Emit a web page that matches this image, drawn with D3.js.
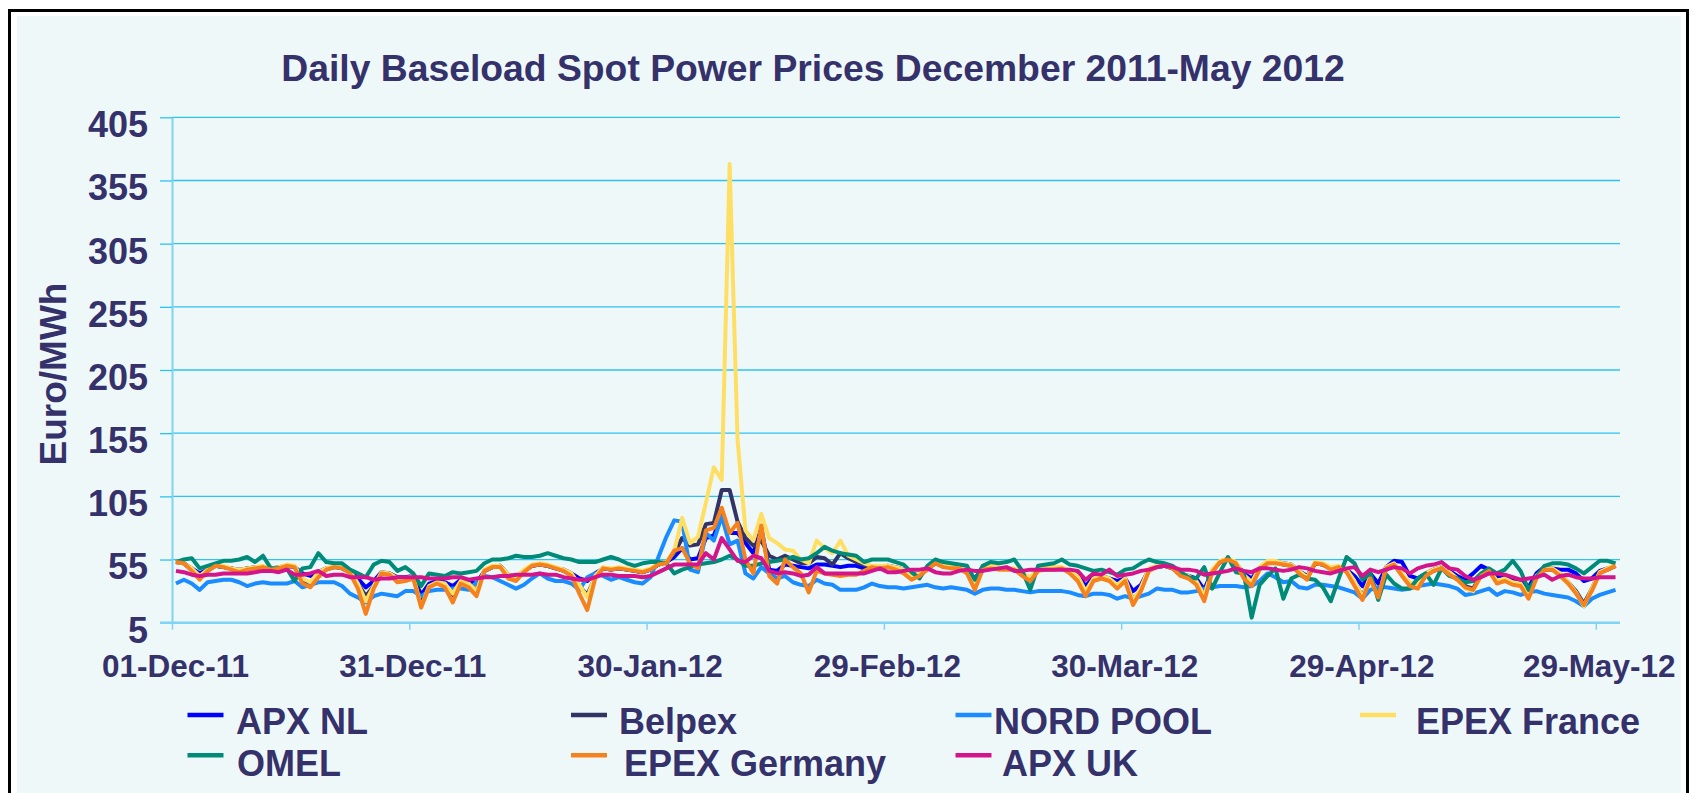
<!DOCTYPE html>
<html>
<head>
<meta charset="utf-8">
<script src="https://cdn.jsdelivr.net/npm/d3@7"></script>
<style>
    body { margin: 0; background: #ffffff; }
    svg { display: block; font-family: "Liberation Sans", Arial, sans-serif; font-weight: bold; }
</style>
</head>
<body>
<svg width="1696" height="793"></svg>
<script>
// daily baseload prices, Euro/MWh, 01-Dec-2011 .. 31-May-2012 (183 days)
var startDay = "2011-12-01";
var endDay = "2012-06-01";

var seriesNames = ["APX NL", "Belpex", "NORD POOL", "EPEX France", "OMEL", "EPEX Germany", "APX UK"];

var apxNL = [53,52,48,44,47,50,49,48,47,48,
    49,49,48,49,50,49,44,42,45,48,
    49,49,46,40,33,38,45,44,41,41,
    42,27,36,38,37,34,39,38,36,46,
    49,50,43,41,46,50,51,50,48,47,
    44,40,38,44,48,47,48,47,46,45,
    47,51,53,57,64,55,56,72,74,90,
    76,76,68,60,80,47,46,51,50,49,
    48,51,51,50,49,50,50,48,47,49,
    50,49,47,44,43,48,52,50,49,49,
    46,40,48,49,48,48,47,44,39,47,
    48,48,48,46,43,34,41,42,40,38,
    40,30,35,47,49,50,48,44,42,40,
    31,46,53,55,52,44,40,48,53,53,
    52,51,46,42,52,51,48,49,47,42,
    34,44,36,49,54,53,42,40,44,47,
    49,46,42,39,44,50,47,42,42,39,
    37,33,44,49,48,47,47,44,38,40,
    46,48,50];

var belpex = [53,52,47,41,46,50,49,48,46,48,
    48,49,48,48,50,49,39,36,43,47,
    49,48,45,36,26,34,44,44,40,39,
    41,22,34,37,35,27,37,35,31,46,
    49,50,42,40,46,50,51,50,48,46,
    43,34,27,41,48,47,48,47,46,45,
    47,51,53,60,72,66,67,83,84,110,
    110,85,72,66,70,58,55,58,55,52,
    52,57,56,51,60,56,53,51,49,49,
    49,48,46,41,43,48,52,50,49,49,
    45,35,48,49,48,48,47,43,38,47,
    48,48,48,45,41,30,39,41,39,35,
    39,23,31,47,49,50,48,43,41,38,
    28,46,53,55,52,42,36,48,53,53,
    51,50,45,40,52,51,48,49,46,37,
    26,41,27,48,51,43,36,33,43,46,
    48,44,40,34,32,43,46,38,39,36,
    35,27,41,47,47,43,37,30,20,32,
    45,47,50];

var nordPool = [36,39,36,31,37,38,39,39,37,34,
    36,37,36,36,36,38,33,35,37,37,
    37,34,28,25,21,26,28,27,26,30,
    30,26,30,31,31,32,32,31,37,42,
    41,38,35,32,35,40,44,40,38,38,
    36,31,41,44,42,39,41,39,37,36,
    41,57,73,86,85,47,45,76,70,89,
    67,70,44,40,49,44,40,42,37,35,
    34,39,36,35,31,31,31,33,36,34,
    33,33,32,33,34,35,33,32,33,32,
    31,28,31,32,32,31,31,30,29,30,
    30,30,30,29,27,26,28,28,27,24,
    26,24,26,28,32,31,31,29,29,30,
    32,33,34,34,34,33,34,38,44,41,
    37,38,33,32,35,35,34,33,31,29,
    24,31,33,33,32,31,32,34,35,36,
    35,34,32,27,28,30,32,27,30,29,
    27,29,30,28,27,26,25,22,18,24,
    27,29,31];

var epexFrance = [53,52,48,42,47,50,50,48,47,48,
    49,50,48,49,51,50,40,37,45,48,
    50,49,46,36,22,34,45,44,40,40,
    42,17,34,37,36,28,38,36,30,47,
    50,50,43,41,47,51,52,51,49,47,
    44,35,25,42,49,48,49,48,47,46,
    48,52,53,62,88,68,73,100,128,118,
    368,150,78,70,91,72,68,63,62,55,
    52,70,64,60,70,58,55,52,50,50,
    50,49,47,42,44,49,54,51,50,50,
    46,36,49,50,49,48,48,44,41,48,
    49,49,49,46,42,30,40,42,40,35,
    40,22,33,48,50,51,49,44,42,38,
    26,47,54,56,53,43,37,49,54,54,
    52,51,46,41,53,52,49,50,47,38,
    25,42,24,49,52,44,37,34,44,47,
    49,45,40,32,30,43,47,38,40,37,
    36,26,42,48,48,44,37,29,18,32,
    45,48,51];

var omel = [53,55,56,48,50,52,54,54,55,57,
    53,58,48,48,48,38,48,49,60,53,
    52,52,47,44,41,51,54,53,46,49,
    44,34,44,43,42,45,44,45,46,52,
    55,55,56,58,57,57,58,60,58,56,
    55,53,53,53,55,57,55,52,50,52,
    53,53,52,44,47,49,51,52,53,55,
    58,55,50,50,52,53,54,55,57,55,
    56,60,65,62,60,59,58,53,55,55,
    55,53,51,45,40,50,55,53,52,51,
    50,39,50,53,52,53,55,46,31,50,
    51,52,55,51,50,48,46,47,45,43,
    47,48,52,55,53,52,50,45,41,40,
    49,32,45,57,45,44,9,35,42,48,
    24,40,43,40,39,33,22,40,57,52,
    39,44,23,43,36,32,32,40,44,35,
    48,42,40,37,38,44,48,44,47,54,
    46,31,41,50,52,52,51,48,44,49,
    54,54,52];

var epexGermany = [53,52,46,39,46,50,49,47,45,47,
    48,49,47,48,50,49,36,33,41,47,
    49,48,44,32,12,32,44,43,37,38,
    40,17,33,36,33,21,36,33,26,46,
    49,49,40,38,45,50,51,50,48,46,
    42,28,15,40,48,47,48,47,46,45,
    47,51,52,62,64,52,48,78,80,96,
    76,84,55,44,82,42,36,55,49,44,
    29,46,44,43,42,43,43,46,49,48,
    49,47,44,39,42,47,52,49,48,48,
    44,31,47,48,47,47,47,42,38,46,
    47,47,48,44,38,26,38,40,38,32,
    38,19,30,46,49,50,48,42,40,35,
    22,45,53,55,52,40,34,47,52,52,
    51,50,44,39,52,51,47,49,45,34,
    23,40,25,48,51,42,34,32,42,46,
    48,43,39,33,31,42,46,36,38,35,
    34,24,40,47,47,42,36,28,19,30,
    44,47,50];

var apxUK = [46,45,43,42,43,43,44,44,44,44,
    45,46,46,45,47,43,43,44,46,42,
    43,43,41,41,41,39,40,40,41,41,
    41,41,40,40,40,41,41,39,40,41,
    41,42,42,43,43,43,44,43,43,41,
    40,39,39,41,43,43,42,42,42,41,
    42,45,48,51,51,51,51,60,55,72,
    63,54,53,58,56,46,44,45,44,42,
    43,49,44,44,44,44,44,44,46,48,
    45,45,46,47,47,48,45,44,44,46,
    47,46,46,47,48,49,46,46,47,47,
    47,47,47,47,46,39,44,43,47,42,
    43,44,46,47,49,50,49,47,47,46,
    43,44,45,46,48,46,45,48,48,47,
    46,47,49,48,46,45,44,46,48,49,
    42,47,45,47,49,48,44,48,50,51,
    53,48,47,42,39,41,44,44,43,41,
    39,40,41,43,39,42,43,41,40,40,
    41,41,41];

var yTicks = [5, 55, 105, 155, 205, 255, 305, 355, 405];
var xTicks = ["01-Dec-11", "31-Dec-11", "30-Jan-12", "29-Feb-12", "30-Mar-12", "29-Apr-12", "29-May-12"];

var allSeries = [apxNL, belpex, nordPool, epexFrance, omel, epexGermany, apxUK];
var colors = ["#0000ff", "#333366", "#1a8cff", "#ffdf63", "#008a78", "#f5821f", "#d4148a"];
var textColor = "#35316b";

var svg = d3.select("svg"),
    plot = {left: 172, right: 1619.5, top: 117.3, bottom: 622.7};

// frame
svg.append("rect").attr("x", 9.5).attr("y", 10.5).attr("width", 1678).attr("height", 800)
    .attr("fill", "#ffffff").attr("stroke", "#000").attr("stroke-width", 3);
svg.append("rect").attr("x", 17).attr("y", 16).attr("width", 1664).attr("height", 790)
    .attr("fill", "#eff8f9");

var parseDay = d3.utcParse("%Y-%m-%d"),
    parseTick = d3.utcParse("%d-%b-%y");
var t0 = parseDay(startDay), t1 = parseDay(endDay);
var days = d3.utcDay.range(t0, t1).map(function (d) { return d3.utcHour.offset(d, 12); });

var x = d3.scaleUtc().domain([t0, t1]).range([plot.left, plot.right]);
var y = d3.scaleLinear().domain([5, 405]).range([plot.bottom, plot.top]);

// grid
svg.append("g").selectAll("line")
    .data(yTicks.slice(1))
    .enter().append("line")
    .attr("x1", plot.left).attr("x2", 1620)
    .attr("y1", function (d) { return y(d); })
    .attr("y2", function (d) { return y(d); })
    .attr("stroke", "#2cc3f2").attr("stroke-width", 1.3);

var yAxis = svg.append("g")
    .attr("transform", "translate(" + plot.left + ",0)")
    .call(d3.axisLeft(y).tickValues(yTicks).tickSizeInner(12).tickSizeOuter(0).tickPadding(12));
yAxis.select(".domain").attr("stroke", "#7fd4f4").attr("stroke-width", 2);
yAxis.selectAll(".tick line").attr("stroke", "#2cc3f2").attr("stroke-width", 1.3);
yAxis.selectAll("text").attr("fill", textColor).style("font-size", "36px").attr("dy", "0.54em");
yAxis.attr("font-family", null).attr("font-size", null);

var xAxis = svg.append("g")
    .attr("transform", "translate(0," + plot.bottom + ")")
    .call(d3.axisBottom(x).tickValues(xTicks.map(parseTick)).tickFormat(d3.utcFormat("%d-%b-%y"))
        .tickSizeInner(7).tickSizeOuter(0).tickPadding(25));
xAxis.select(".domain").attr("d", "M160,0H1620").attr("stroke", "#7fd4f4").attr("stroke-width", 2.5);
xAxis.selectAll(".tick line").attr("stroke", "#7fd4f4").attr("stroke-width", 1.5);
xAxis.selectAll("text").attr("fill", textColor).style("font-size", "31.5px").attr("dx", "3");
xAxis.attr("font-family", null).attr("font-size", null);
xAxis.raise();

// lines
var line = d3.line()
    .x(function (d, i) { return x(days[i]); })
    .y(function (d) { return y(d); });

svg.append("g").selectAll("path")
    .data(allSeries)
    .enter().append("path")
    .attr("d", line)
    .attr("fill", "none")
    .attr("stroke", function (d, i) { return colors[i]; })
    .attr("stroke-width", 4)
    .attr("stroke-linejoin", "round");

// titles
svg.append("text")
    .attr("x", 813).attr("y", 81)
    .attr("text-anchor", "middle")
    .attr("fill", textColor)
    .style("font-size", "37.3px")
    .text("Daily Baseload Spot Power Prices December 2011-May 2012");

svg.append("text")
    .attr("transform", "translate(66,374) rotate(-90)")
    .attr("text-anchor", "middle")
    .attr("fill", textColor)
    .style("font-size", "37px")
    .text("Euro/MWh");

// legend, 4 columns x 2 rows
var legendLineX = [187.5, 571, 955.5, 1360],
    legendTextX = [236, 619, 994, 1416, 237, 624, 1002],
    legendLineY = [715, 755.3],
    legendTextY = [734, 776];

var legend = svg.selectAll(".legend")
    .data(seriesNames)
    .enter().append("g")
    .attr("class", "legend");

legend.append("line")
    .attr("x1", function (d, i) { return legendLineX[i % 4]; })
    .attr("x2", function (d, i) { return legendLineX[i % 4] + 36; })
    .attr("y1", function (d, i) { return legendLineY[Math.floor(i / 4)]; })
    .attr("y2", function (d, i) { return legendLineY[Math.floor(i / 4)]; })
    .attr("stroke", function (d, i) { return colors[i]; })
    .attr("stroke-width", 4.5);

legend.append("text")
    .attr("x", function (d, i) { return legendTextX[i]; })
    .attr("y", function (d, i) { return legendTextY[Math.floor(i / 4)]; })
    .attr("fill", textColor)
    .style("font-size", "36px")
    .text(function (d) { return d; });
</script>
</body>
</html>
